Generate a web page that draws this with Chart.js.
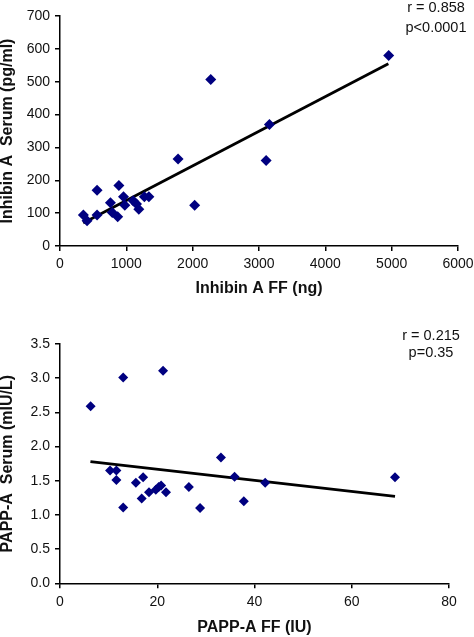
<!DOCTYPE html>
<html>
<head>
<meta charset="utf-8">
<script src="https://cdn.jsdelivr.net/npm/chart.js@4/dist/chart.umd.min.js"></script>
<style>
  body { margin: 0; background: #fff; }
  .box { position: absolute; left: 0; width: 474px; }
  #boxTop { top: 0; height: 300px; }
  #boxBottom { top: 300px; height: 337px; }
</style>
</head>
<body>
<div class="box" id="boxTop"><canvas id="inhibinChart"></canvas></div>
<div class="box" id="boxBottom"><canvas id="pappChart"></canvas></div>
<script>
// Inhibin A: follicular fluid (ng) vs serum (pg/ml)
const inhibinFF = [352, 408, 559, 559, 760, 788, 870, 888, 957, 977, 1103, 1153, 1188, 1272, 1340, 1780, 2030, 2273, 3107, 3157, 4955];
const inhibinSerum = [94, 77, 170, 94, 132, 102, 89, 184, 150, 124, 138, 128, 112, 150, 150, 265, 124, 507, 260, 370, 580];
const inhibinTrendX = [350, 4950];
const inhibinTrendY = [70, 555];
const inhibinStats = ["r = 0.858", "p<0.0001"];

// PAPP-A: follicular fluid (IU) vs serum (mIU/L)
const pappFF = [6.3, 13.0, 21.2, 10.3, 11.6, 11.6, 13.0, 15.6, 16.8, 17.1, 18.3, 19.7, 20.3, 20.8, 21.8, 26.5, 28.8, 33.1, 35.9, 37.8, 42.2, 68.9];
const pappSerum = [2.59, 3.01, 3.11, 1.65, 1.65, 1.51, 1.11, 1.47, 1.24, 1.55, 1.33, 1.37, 1.41, 1.43, 1.33, 1.41, 1.10, 1.84, 1.56, 1.20, 1.47, 1.55];
const pappTrendX = [6.26, 68.9];
const pappTrendY = [1.78, 1.27];
const pappStats = ["r = 0.215", "p=0.35"];

const tickFont = { family: "'Liberation Sans', Arial, sans-serif", size: 14 };
const titleFont = { family: "'Liberation Sans', Arial, sans-serif", size: 16, weight: 'bold', lineHeight: 1.2 };

function toPoints(xs, ys) {
    return xs.map((x, i) => ({ x: x, y: ys[i] }));
}

// writes the r / p text in the top right corner
function statsPlugin(lines, cx, ys) {
    return {
        id: 'stats',
        afterDraw(chart) {
            const ctx = chart.ctx;
            ctx.save();
            ctx.fillStyle = '#111';
            ctx.font = "14.5px 'Liberation Sans', Arial, sans-serif";
            ctx.textAlign = 'center';
            ctx.textBaseline = 'middle';
            lines.forEach((t, i) => ctx.fillText(t, cx, ys[i]));
            ctx.restore();
        }
    };
}

function makeChart(canvasId, cfg) {
    const axisCommon = {
        border: { display: true, color: '#000', width: 1.5 },
        grid: { drawOnChartArea: false, drawTicks: true, tickLength: 5, color: '#000', lineWidth: 1.5 },
    };
    return new Chart(document.getElementById(canvasId), {
        type: 'scatter',
        data: {
            datasets: [{
                data: toPoints(cfg.xs, cfg.ys),
                pointStyle: 'rectRot',
                pointRadius: cfg.pointRadius,
                backgroundColor: '#000080',
                borderColor: '#000080',
                borderWidth: 0
            }, {
                type: 'line',
                data: toPoints(cfg.trendX, cfg.trendY),
                borderColor: '#000',
                borderWidth: 2.8,
                pointRadius: 0,
                fill: false
            }]
        },
        options: {
            responsive: true,
            maintainAspectRatio: false,
            animation: false,
            layout: { padding: cfg.padding },
            plugins: { legend: { display: false }, tooltip: { enabled: false } },
            scales: {
                x: {
                    ...axisCommon,
                    type: 'linear',
                    min: cfg.xMin, max: cfg.xMax,
                    ticks: { stepSize: cfg.xStep, font: tickFont, color: '#111', padding: 5,
                             callback: (v) => String(v) },
                    title: { display: true, text: cfg.xTitle, font: titleFont, color: '#111', padding: { top: 0, bottom: cfg.xTitlePad } },
                    afterFit: (s) => { s.height = cfg.xHeight; s.paddingRight = 0; s.paddingLeft = 0; }
                },
                y: {
                    ...axisCommon,
                    type: 'linear',
                    min: cfg.yMin, max: cfg.yMax,
                    ticks: { stepSize: cfg.yStep, font: tickFont, color: '#111', padding: 5,
                             callback: cfg.yFormat },
                    title: { display: true, text: cfg.yTitle, font: { ...titleFont, lineHeight: 1 }, color: '#111', padding: 0 },
                    afterFit: (s) => { s.width = 60; }
                }
            }
        },
        plugins: [statsPlugin(cfg.stats, cfg.statsX, cfg.statsY)]
    });
}

makeChart('inhibinChart', {
    xs: inhibinFF, ys: inhibinSerum, trendX: inhibinTrendX, trendY: inhibinTrendY,
    pointRadius: 5.5,
    padding: { top: 16, right: 16, bottom: 0, left: 0 },
    xMin: 0, xMax: 6000, xStep: 1000,
    yMin: 0, yMax: 700, yStep: 100,
    yFormat: (v) => String(v),
    xTitle: 'Inhibin A FF (ng)', yTitle: 'Inhibin A  Serum (pg/ml)',
    xHeight: 54, xTitlePad: 1.4,
    stats: inhibinStats, statsX: 436, statsY: [8, 28]
});

makeChart('pappChart', {
    xs: pappFF, ys: pappSerum, trendX: pappTrendX, trendY: pappTrendY,
    pointRadius: 5,
    padding: { top: 44, right: 25, bottom: 0, left: 0 },
    xMin: 0, xMax: 80, xStep: 20,
    yMin: 0, yMax: 3.5, yStep: 0.5,
    yFormat: (v) => Number(v).toFixed(1),
    xTitle: 'PAPP-A FF (IU)', yTitle: 'PAPP-A  Serum (mIU/L)',
    xHeight: 53.7, xTitlePad: 0,
    stats: pappStats, statsX: 431, statsY: [36, 53]
});
</script>
</body>
</html>
